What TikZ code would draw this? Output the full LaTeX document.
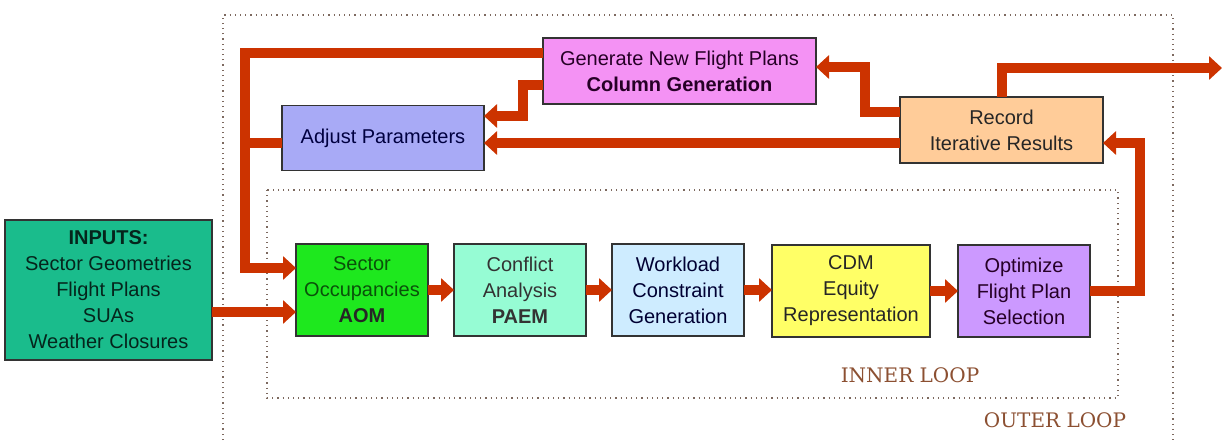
\documentclass[tikz,border=0pt]{standalone}
\usepackage{fontspec}
\setmainfont{Liberation Sans}
\newfontfamily\loopfont{DejaVu Serif}
\usetikzlibrary{arrows.meta,calc}

\definecolor{arrowred}{RGB}{204,51,0}
\definecolor{loopgray}{RGB}{125,105,95}
\definecolor{loopbrown}{RGB}{140,80,50}
\definecolor{inputfill}{RGB}{26,188,140}
\definecolor{aomfill}{RGB}{30,232,30}
\definecolor{paemfill}{RGB}{150,252,212}
\definecolor{workfill}{RGB}{206,236,255}
\definecolor{cdmfill}{RGB}{255,255,102}
\definecolor{optfill}{RGB}{204,153,255}
\definecolor{genfill}{RGB}{244,146,244}
\definecolor{adjfill}{RGB}{168,170,246}
\definecolor{recfill}{RGB}{255,204,153}

\begin{document}
\begin{tikzpicture}[x=0.5pt, y=-0.5pt, outer sep=0pt]
  \tikzstyle{block}=[
    draw=black!80,
    rectangle,
    line width=0.8pt,
    align=center,
    inner sep=1pt,
    anchor=center,
    font=\fontsize{10}{13}\selectfont
  ]
  \tikzstyle{arrow} = [line width=5pt, draw=arrowred, -{Triangle[width=11.5pt,length=6.5pt]}]
  \tikzstyle{joinline} = [line width=5pt, draw=arrowred]
  \tikzstyle{loopline} = [draw=loopgray, dotted, line width=0.6pt]
  \tikzstyle{looptext} = [text=loopbrown, font=\loopfont\fontsize{10}{12}\selectfont]

  \useasboundingbox (0,0) rectangle (1225,440);

  % loops
  \draw[loopline] (223,440) -- (223,15) -- (1173,15) -- (1173,440);
  \draw[loopline] (267,190) rectangle (1118,398);
  \node[looptext] (innerlabel) at (910,375) {INNER LOOP};
  \node[looptext] (outerlabel) at (1055,420) {OUTER LOOP};

  % outer loop boxes
  \node[block, fill=genfill, text=black!70!violet, minimum width=136.5pt, minimum height=33pt] (gen) at (679.5,71)
    {Generate New Flight Plans\\\textbf{Column Generation}};
  \node[block, fill=adjfill, text=black!75!blue, minimum width=101pt, minimum height=32.5pt] (adjust) at (383,138)
    {Adjust Parameters};
  \node[block, fill=recfill, text=black!85, minimum width=101.5pt, minimum height=33pt] (record) at (1001.5,130)
    {Record\\Iterative Results};

  % inputs
  \node[block, fill=inputfill, text=black!80!inputfill, minimum width=103.5pt, minimum height=70pt] (inputs) at (108.5,290)
    {\textbf{INPUTS:}\\Sector Geometries\\Flight Plans\\SUAs\\Weather Closures};

  % inner loop boxes
  \node[block, fill=aomfill, text=black!65!aomfill, minimum width=66pt, minimum height=46pt] (aom) at (362,290)
    {Sector\\Occupancies\\\textcolor{black!85}{\textbf{AOM}}};
  \node[block, fill=paemfill, text=black!80, minimum width=66pt, minimum height=46pt] (paem) at (520,290)
    {Conflict\\Analysis\\\textbf{PAEM}};
  \node[block, fill=workfill, text=black!80!blue, minimum width=66pt, minimum height=46pt] (work) at (678,290)
    {Workload\\Constraint\\Generation};
  \node[block, fill=cdmfill, text=black!85, minimum width=79pt, minimum height=46pt] (cdm) at (851,291)
    {CDM\\Equity\\Representation};
  \node[block, fill=optfill, text=black!70!violet, minimum width=66pt, minimum height=46pt] (opt) at (1024,291)
    {Optimize\\Flight Plan\\Selection};

  \coordinate (exit) at (1222,68);

  % inner chain
  \draw[arrow] (aom.east) -- (paem.west);
  \draw[arrow] (paem.east) -- (work.west);
  \draw[arrow] (work.east) -- (work.east -| cdm.west);
  \draw[arrow] (cdm.east) -- (opt.west);

  % into the inner loop
  \draw[arrow] ($(inputs.east)+(0,22)$) -- ($(aom.west)+(0,22)$);
  \draw[arrow] ($(gen.west)+(0,-18)$) -| ($(aom.west)+(-51,-22)$) -- ($(aom.west)+(0,-22)$);
  \draw[joinline] ($(adjust.west)+(0,5)$) -- ($(adjust.west)+(-37,5)$);

  % outer loop feedback
  \draw[arrow] (opt.east) -| ($(record.east)+(37,13)$) -- ($(record.east)+(0,13)$);
  \draw[arrow] ($(record.west)+(0,13)$) -- ($(adjust.east)+(0,5)$);
  \draw[arrow] ($(record.west)+(0,-18)$) -| ($(gen.east)+(49,-4)$) -- ($(gen.east)+(0,-4)$);
  \draw[arrow] ($(gen.west)+(0,14)$) -| ($(adjust.east)+(39,-22)$) -- ($(adjust.east)+(0,-22)$);
  \draw[arrow] (record.north) |- (exit);
\end{tikzpicture}
\end{document}
